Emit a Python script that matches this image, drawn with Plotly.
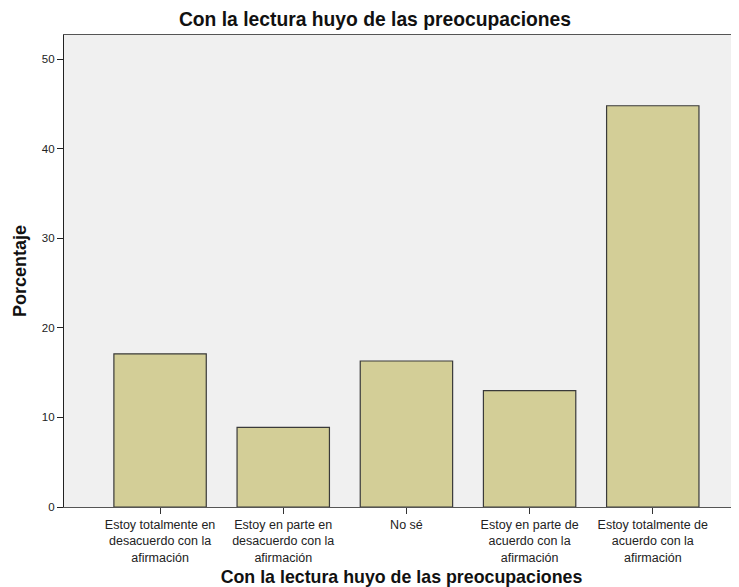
import plotly.graph_objects as go

categories = [
    "Estoy totalmente en<br>desacuerdo con la<br>afirmación",
    "Estoy en parte en<br>desacuerdo con la<br>afirmación",
    "No sé",
    "Estoy en parte de<br>acuerdo con la<br>afirmación",
    "Estoy totalmente de<br>acuerdo con la<br>afirmación",
]
percentages = [17.1, 8.9, 16.3, 13.0, 44.8]
y_ticks = [0, 10, 20, 30, 40, 50]

title_text = "Con la lectura huyo de las preocupaciones"
x_title = "Con la lectura huyo de las preocupaciones"
y_title = "Porcentaje"

font_family = "Liberation Sans, Arial, sans-serif"

# the page body has an 8px default margin, so the figure is 8px smaller
W, H = 731, 579

fig = go.Figure(
    go.Bar(
        x=list(range(len(categories))),
        y=percentages,
        width=0.75,
        marker=dict(color="#D3CE97", line=dict(color="#3a3a3a", width=1.2)),
        hoverinfo="y",
    )
)

fig.update_layout(
    width=W,
    height=H,
    margin=dict(l=56, r=0, t=27, b=80, autoexpand=False),
    paper_bgcolor="white",
    plot_bgcolor="#F0F0F0",
    showlegend=False,
    font=dict(family=font_family, color="#222222", size=12),
    title=dict(
        text="<b>" + title_text + "</b>",
        x=367 / W,
        xanchor="center",
        y=1 - 11 / H,
        yanchor="middle",
        automargin=False,
        font=dict(size=19.3, color="#111111", family=font_family),
    ),
)

fig.update_xaxes(
    tickmode="array",
    tickvals=list(range(len(categories))),
    ticktext=categories,
    range=[-0.78, 4.70],
    ticks="outside",
    ticklen=6,
    tickcolor="#333333",
    tickwidth=1,
    showline=True,
    linecolor="#555555",
    linewidth=1,
    mirror=True,
    showgrid=False,
    zeroline=False,
    tickangle=0,
    automargin=False,
    tickfont=dict(size=12.5, color="#222222"),
    title=dict(
        text="<b>" + x_title + "</b>",
        font=dict(size=17.8, color="#111111"),
        standoff=9,
    ),
)

fig.update_yaxes(
    tickmode="array",
    tickvals=y_ticks,
    ticktext=[str(v) for v in y_ticks],
    range=[0, 52.7],
    ticks="outside",
    ticklen=6,
    tickcolor="#222222",
    tickwidth=1,
    showline=True,
    linecolor="#222222",
    linewidth=1.2,
    showgrid=False,
    zeroline=False,
    automargin=False,
    tickfont=dict(size=11.5, color="#222222"),
    title=dict(
        text="<b>" + y_title + "</b>",
        font=dict(size=18, color="#111111"),
        standoff=10,
    ),
)

fig.write_html("out.html")
